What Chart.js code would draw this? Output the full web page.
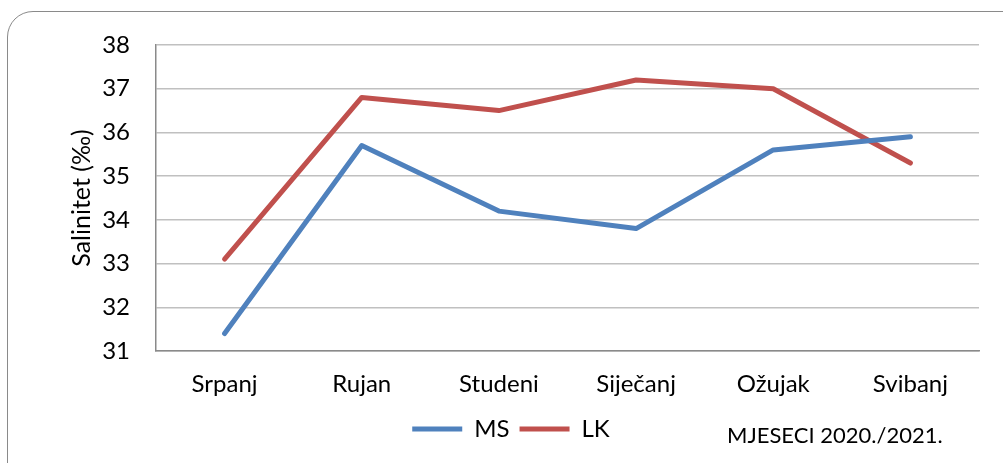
<!DOCTYPE html>
<html>
<head>
<meta charset="utf-8">
<script src="https://cdn.jsdelivr.net/npm/chart.js@4"></script>
<style>
  body { margin: 0; background: #fff; overflow: hidden; }
  #frame { position: absolute; left: 7px; top: 11px; width: 1020px; height: 480px;
           border: 1.5px solid #8a8a8a; border-radius: 26px; }
  #wrap { position: absolute; left: 0; top: 0; width: 1003px; height: 463px; }
</style>
</head>
<body>
<div id="frame"></div>
<div id="wrap"><canvas id="myChart" width="1003" height="463"></canvas></div>
<script>
var mjeseci = ['Srpanj', 'Rujan', 'Studeni', 'Siječanj', 'Ožujak', 'Svibanj'];
var ms = [31.4, 35.7, 34.2, 33.8, 35.6, 35.9];
var lk = [33.1, 36.8, 36.5, 37.2, 37.0, 35.3];
var yTicks = [31, 32, 33, 34, 35, 36, 37, 38];

var font = 'Lato, "Open Sans", sans-serif';

// tekst osi x desno od legende
var osXTekst = {
    id: 'osXTekst',
    afterDraw: function(chart) {
        var c = chart.ctx;
        c.save();
        c.font = '22px ' + font;
        c.fillStyle = '#000';
        c.textBaseline = 'middle';
        c.fillText('MJESECI 2020./2021.', 727, 436);
        c.restore();
    }
};

var ctx = document.getElementById('myChart');
var myChart = new Chart(ctx, {
    type: 'line',
    data: {
        labels: mjeseci,
        datasets: [{
            label: 'MS',
            data: ms,
            borderColor: '#4f81bd',
            backgroundColor: '#4f81bd',
            borderWidth: 5,
            borderCapStyle: 'round',
            borderJoinStyle: 'round',
            pointRadius: 0,
            tension: 0
        }, {
            label: 'LK',
            data: lk,
            borderColor: '#c0504d',
            backgroundColor: '#c0504d',
            borderWidth: 5,
            borderCapStyle: 'round',
            borderJoinStyle: 'round',
            pointRadius: 0,
            tension: 0
        }]
    },
    options: {
        responsive: false,
        animation: false,
        layout: { padding: { left: 43, right: 24, top: 45, bottom: 12 } },
        plugins: {
            tooltip: { enabled: false },
            legend: {
                position: 'bottom',
                labels: {
                    usePointStyle: true,
                    pointStyle: 'line',
                    pointStyleWidth: 50,
                    color: '#000',
                    padding: 10,
                    font: { family: font, size: 24 }
                }
            }
        },
        scales: {
            x: {
                offset: true,
                grid: { display: false, drawTicks: false },
                border: { color: '#8a8a8a', width: 1.5 },
                ticks: { color: '#000', padding: 19, font: { family: font, size: 24 } },
                afterFit: function(s) { s.height = 56; }
            },
            y: {
                min: 31,
                max: 38,
                afterBuildTicks: function(s) { s.ticks = yTicks.map(function(v) { return { value: v }; }); },
                grid: { color: '#c0c0c0', lineWidth: 1.5, drawTicks: false },
                border: { color: '#8a8a8a', width: 1.5 },
                ticks: { color: '#000', padding: 26, font: { family: font, size: 24 } },
                title: { display: true, text: 'Salinitet (‰)', color: '#000', padding: { top: 24, bottom: 0 },
                         font: { family: font, size: 25 } },
                afterFit: function(s) { s.width = 113; }
            }
        }
    },
    plugins: [osXTekst]
});
</script>
</body>
</html>
